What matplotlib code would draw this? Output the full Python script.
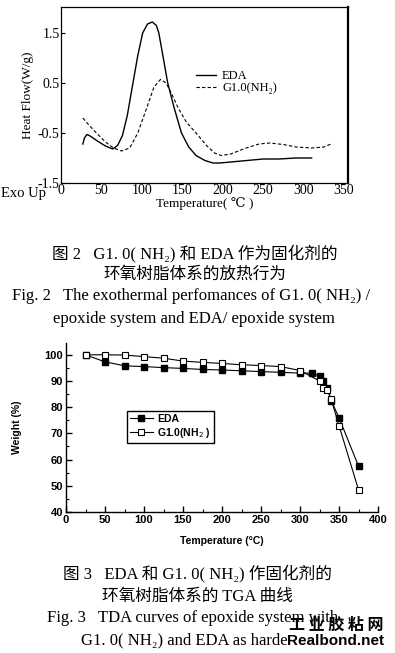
import matplotlib
matplotlib.use("Agg")
import matplotlib.pyplot as plt
from matplotlib.ticker import MultipleLocator

# ---- Fig. 2 : DSC heat flow ----
eda_T = [27, 29, 32, 36, 45, 55, 64, 70, 76, 82, 89, 95, 101, 107, 113, 118, 121, 126,
         132, 140, 149, 158, 167, 178, 188, 196, 210, 230, 250, 270, 290, 310]
eda_hf = [-0.72, -0.6, -0.53, -0.56, -0.66, -0.76, -0.82, -0.75, -0.55, -0.15, 0.5, 1.05,
          1.5, 1.68, 1.72, 1.65, 1.5, 1.05, 0.5, 0.0, -0.5, -0.78, -0.95, -1.05, -1.1,
          -1.1, -1.08, -1.05, -1.02, -1.02, -1.0, -1.0]
g1_T = [27, 35, 45, 55, 65, 75, 85, 95, 106, 115, 123, 130, 137, 145, 155, 167, 180, 190,
        198, 210, 229, 245, 258, 275, 291, 310, 325, 334]
g1_hf = [-0.2, -0.35, -0.52, -0.68, -0.8, -0.86, -0.8, -0.5, 0.0, 0.42, 0.57, 0.5, 0.28,
         0.0, -0.28, -0.5, -0.75, -0.9, -0.95, -0.92, -0.8, -0.72, -0.7, -0.73, -0.78,
         -0.8, -0.78, -0.72]
dsc_yticks = [-1.5, -0.5, 0.5, 1.5]
dsc_xticks = [0, 50, 100, 150, 200, 250, 300, 350]

# ---- Fig. 3 : TGA weight loss ----
tga_eda_T = [25, 50, 75, 100, 125, 150, 175, 200, 225, 250, 275, 300, 315, 325, 330, 335,
             340, 350, 375]
tga_eda_w = [100, 97.3, 95.8, 95.5, 95.1, 94.8, 94.4, 94.2, 93.9, 93.6, 93.3, 93.0, 93.0,
             92.0, 90.0, 87.5, 82.5, 76.0, 57.5]
tga_g1_T = [25, 50, 75, 100, 125, 150, 175, 200, 225, 250, 275, 300, 325, 330, 335, 340,
            350, 375]
tga_g1_w = [100, 100, 99.9, 99.3, 98.7, 97.6, 97.1, 96.7, 96.2, 95.9, 95.5, 94.0, 90.0,
            87.5, 86.5, 83.0, 73.0, 48.5]

SERIF = ['Liberation Serif', 'DejaVu Serif', 'Noto Sans CJK SC']
SANS = ['Liberation Sans', 'DejaVu Sans']

W, H = 395, 653
fig = plt.figure(figsize=(W / 100, H / 100), dpi=100)


def fx(px):
    return px / W


def fy(py):
    return 1 - py / H


# top chart
ax1 = fig.add_axes([fx(61), fy(183), fx(348) - fx(61), fy(7) - fy(183)])
ax1.plot(eda_T, eda_hf, color='black', lw=1.0, label='EDA')
ax1.plot(g1_T, g1_hf, color='black', lw=0.8, dashes=(3, 2), label='G1.0(NH₂)')
ax1.set_xlim(0, 355)
ax1.set_ylim(-1.5, 2.02)
ax1.set_yticks(dsc_yticks)
ax1.set_yticklabels([str(v) for v in dsc_yticks], family=SERIF, fontsize=10)
ax1.set_xticks(dsc_xticks)
ax1.set_xticklabels([str(v) for v in dsc_xticks], family=SERIF, fontsize=10)
ax1.tick_params(direction='in', length=3, width=0.8, pad=1)
ax1.tick_params(axis='x', length=0, pad=1)
for s in ax1.spines.values():
    s.set_linewidth(0.9)
ax1.spines['right'].set_linewidth(1.6)
ax1.set_ylabel('Heat Flow(W/g)', family=SERIF, fontsize=9.5, labelpad=3)
ax1.set_xlabel('Temperature( ℃ )', family=SERIF, fontsize=9.5, labelpad=0)
ax1.legend(loc='upper left', bbox_to_anchor=(0.47, 0.64), frameon=False,
           prop={'family': SERIF, 'size': 9}, handlelength=1.6, handletextpad=0.5,
           labelspacing=0.0, borderpad=0, borderaxespad=0)
fig.text(fx(1), fy(193), 'Exo Up', family=SERIF, fontsize=10.5, va='center', ha='left')

# caption 1
cap = dict(family=SERIF, fontsize=12, ha='center', va='center')
fig.text(fx(195), fy(253), '图 2   G1. 0( NH₂) 和 EDA 作为固化剂的', **cap)
fig.text(fx(195), fy(275), '环氧树脂体系的放热行为', **cap)
fig.text(fx(191), fy(296), 'Fig. 2   The exothermal perfomances of G1. 0( NH₂) /', **cap)
fig.text(fx(194), fy(319), 'epoxide system and EDA/ epoxide system', **cap)

# bottom chart
ax2 = fig.add_axes([fx(66), fy(512), fx(378) - fx(66), fy(343) - fy(512)])
ax2.plot(tga_eda_T, tga_eda_w, color='black', lw=0.8, marker='s', ms=4,
         mfc='black', mec='black', label='EDA')
ax2.plot(tga_g1_T, tga_g1_w, color='black', lw=0.8, marker='s', ms=4,
         mfc='white', mec='black', mew=0.8, label='G1.0(NH$_2$ )')
ax2.set_xlim(0, 400)
ax2.set_ylim(40, 104.5)
ax2.xaxis.set_major_locator(MultipleLocator(50))
ax2.xaxis.set_minor_locator(MultipleLocator(25))
ax2.yaxis.set_major_locator(MultipleLocator(10))
ax2.yaxis.set_minor_locator(MultipleLocator(5))
ax2.spines['top'].set_visible(False)
ax2.spines['right'].set_visible(False)
for s in ('left', 'bottom'):
    ax2.spines[s].set_linewidth(1.0)
ax2.tick_params(which='major', direction='in', length=4, width=1.0, pad=2)
ax2.tick_params(which='minor', direction='in', length=2, width=0.8)
for lab in ax2.get_xticklabels() + ax2.get_yticklabels():
    lab.set_family(SANS)
    lab.set_fontweight('bold')
    lab.set_fontsize(8)
ax2.set_xlabel('Temperature (°C)', family=SANS, fontweight='bold', fontsize=7.5, labelpad=8)
ax2.set_ylabel('Weight (%)', family=SANS, fontweight='bold', fontsize=7.5, labelpad=16)
leg = ax2.legend(loc='upper left', bbox_to_anchor=(0.195, 0.6), frameon=True,
                 fancybox=False, edgecolor='black', framealpha=1,
                 prop={'family': SANS, 'weight': 'bold', 'size': 7.5},
                 handlelength=2.2, handletextpad=0.4, labelspacing=0.2,
                 borderpad=0.3, borderaxespad=0)
leg.get_frame().set_linewidth(1.0)

# caption 2
fig.text(fx(197), fy(573), '图 3   EDA 和 G1. 0( NH₂) 作固化剂的', **cap)
fig.text(fx(197), fy(597), '环氧树脂体系的 TGA 曲线', **cap)
fig.text(fx(193), fy(618), 'Fig. 3   TDA curves of epoxide system with', **cap)
fig.text(fx(198), fy(640), 'G1. 0( NH₂) and EDA as hardeners', **cap)

# watermark
fig.text(fx(336), fy(625), '工 业 胶 粘 网', family=['Noto Sans CJK SC'], fontweight='bold',
         fontsize=11.5, ha='center', va='center', zorder=5)
fig.text(fx(336), fy(641), 'Realbond.net', family=SANS, fontweight='bold',
         fontsize=11, ha='center', va='center', zorder=5,
         bbox=dict(facecolor='white', edgecolor='none', pad=0.5))

fig.savefig('out.png', dpi=100)
